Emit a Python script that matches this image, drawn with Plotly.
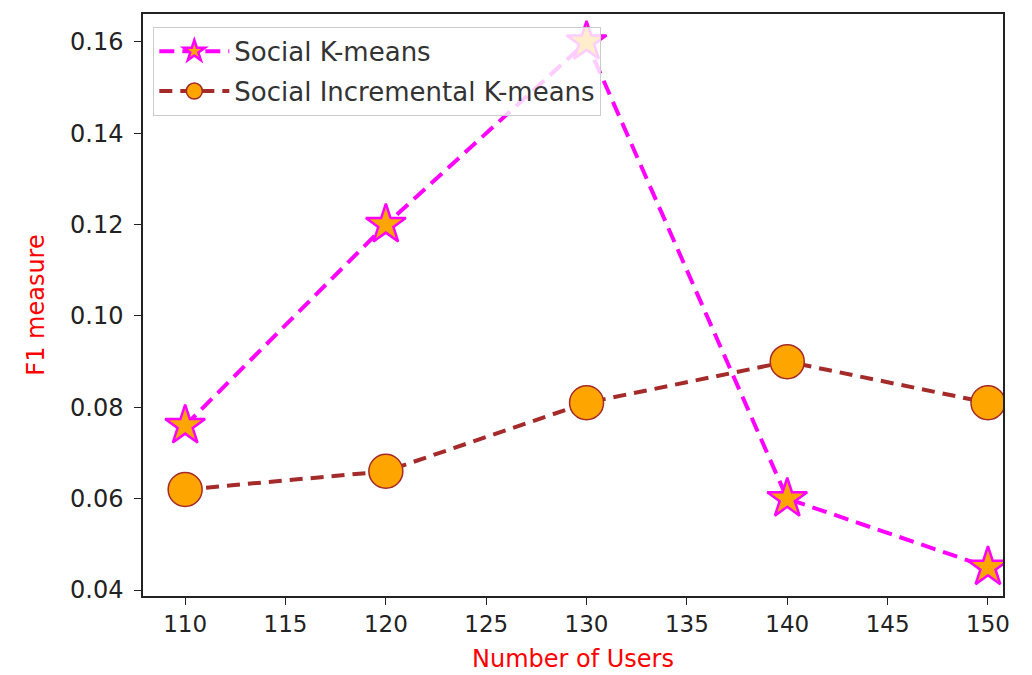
import plotly.graph_objects as go

users = [110, 120, 130, 140, 150]
social_kmeans = [0.076, 0.120, 0.160, 0.060, 0.045]
social_incremental = [0.062, 0.066, 0.081, 0.090, 0.081]
y_ticks = [0.04, 0.06, 0.08, 0.10, 0.12, 0.14, 0.16]
x_ticks = [110, 115, 120, 125, 130, 135, 140, 145, 150]

fig = go.Figure()
fig.add_trace(go.Scatter(
    x=users, y=social_kmeans, mode="lines+markers", name="Social K-means",
    legendgroup="a",
    line=dict(color="#ff00ff", width=4, dash="15px,8px"),
    marker=dict(symbol="star", size=30, color="#ffa500",
                line=dict(color="#ff00ff", width=2.5)),
))
fig.add_trace(go.Scatter(
    x=users, y=social_incremental, mode="lines+markers", name="Social Incremental K-means",
    legendgroup="b",
    line=dict(color="#a52a2a", width=4, dash="13px,8px"),
    marker=dict(symbol="circle", size=34, color="#ffa500",
                line=dict(color="#a52a2a", width=1.5)),
))

font = "DejaVu Sans, sans-serif"
fig.update_layout(
    width=1016, height=667,
    margin=dict(l=135, r=21, t=4, b=79),
    paper_bgcolor="white", plot_bgcolor="white",
    font=dict(family=font, size=24, color="#222"),
    showlegend=True,
    legend=dict(x=0.012, y=0.978, xanchor="left", yanchor="top",
                bgcolor="rgba(255,255,255,0.8)", bordercolor="#cccccc", borderwidth=1,
                tracegroupgap=3, traceorder="grouped", itemwidth=70,
                font=dict(size=26, color="#333")),
    xaxis=dict(range=[107.9, 150.75], tickvals=x_ticks, ticktext=[str(v) for v in x_ticks],
               showgrid=False, zeroline=False, showline=True, linecolor="#222", linewidth=1.5,
               mirror=True, ticks="outside", ticklen=7, tickcolor="#222",
               tickfont=dict(size=23),
               title=dict(text="Number of Users", font=dict(color="red", size=24), standoff=14)),
    yaxis=dict(range=[0.0387, 0.1661], tickvals=y_ticks, ticktext=[f"{v:.2f}" for v in y_ticks],
               showgrid=False, zeroline=False, showline=True, linecolor="#222", linewidth=1.5,
               mirror=True, ticks="outside", ticklen=7, tickcolor="#222",
               ticklabelstandoff=6,
               title=dict(text="F1 measure", font=dict(color="red", size=24), standoff=19)),
)

fig.write_html("out.html")
